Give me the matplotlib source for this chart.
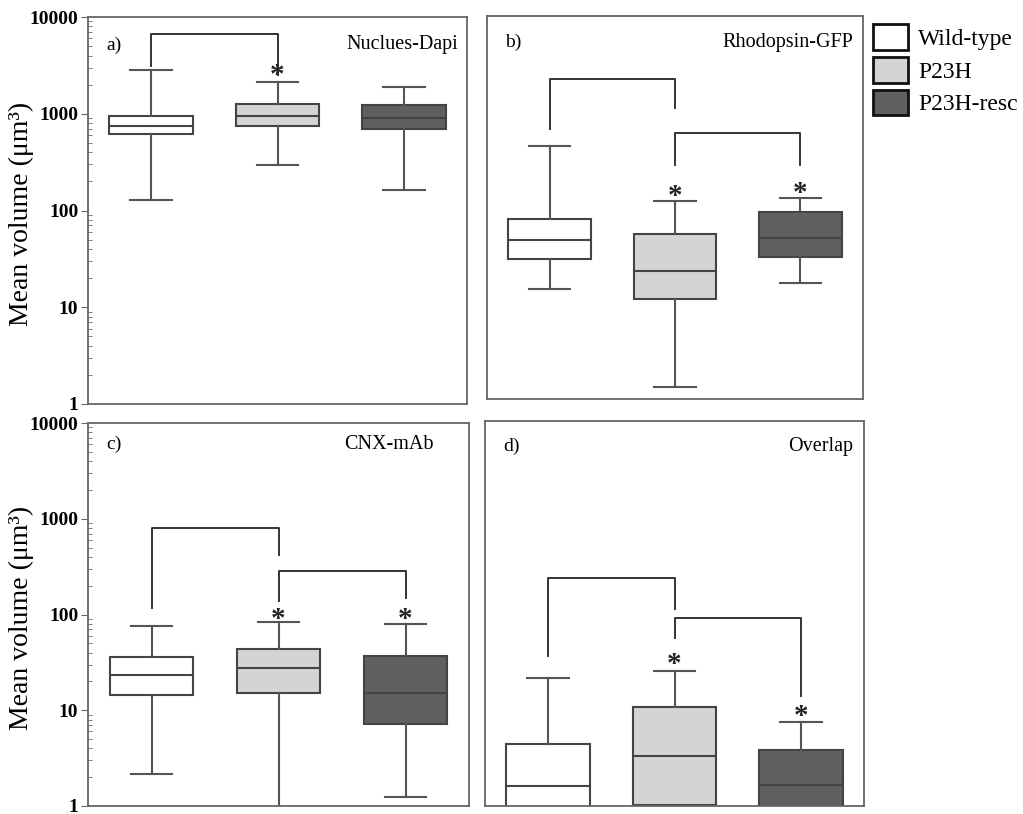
import numpy as np
import matplotlib
matplotlib.use('Agg')
import matplotlib.pyplot as plt
from matplotlib.patches import Patch

plt.rcParams['font.family'] = ['Liberation Serif', 'DejaVu Serif']

groups = ['Wild-type', 'P23H', 'P23H-resc']
colors = ['#ffffff', '#d4d4d4', '#606060']

# five-number summaries per marker (volume, um^3)
nuc_low = [128, 295, 163]
nuc_q1 = [622, 752, 695]
nuc_med = [752, 955, 910]
nuc_q3 = [955, 1270, 1230]
nuc_high = [2850, 2145, 1905]

rho_low = [14, 1.33, 16.4]
rho_q1 = [29.3, 11, 30.5]
rho_med = [46.3, 21.6, 48.5]
rho_q3 = [76.7, 53.5, 90]
rho_high = [444, 118, 125]

cnx_low = [2.18, 0.9, 1.24]
cnx_q1 = [14.3, 15.2, 7.2]
cnx_med = [23.2, 27.6, 15.2]
cnx_q3 = [35.6, 43.6, 36.5]
cnx_high = [75, 82.7, 80]

ovl_low = [0.5, 0.9, 0.5]
ovl_q1 = [0.8, 1.03, 0.8]
ovl_med = [1.61, 3.33, 1.65]
ovl_q3 = [4.43, 10.8, 3.78]
ovl_high = [21.6, 25, 7.4]

# brackets: (x_left, x_right, y_left_end, y_bar, y_right_end)
nuc_brackets = [(1, 2, 3140, 6670, 2510)]
rho_brackets = [(1, 2, 653, 2175, 1082), (2, 3, 275, 607, 275)]
cnx_brackets = [(1, 2, 117, 794, 416), (2, 3, 139, 287, 148)]
ovl_brackets = [(1, 2, 35.8, 232, 111), (2, 3, 55.5, 89.8, 13.8)]

# significance stars: (x, y)
nuc_stars = [(2, 2900)]
rho_stars = [(2, 152), (3, 163)]
cnx_stars = [(2, 103), (3, 103)]
ovl_stars = [(2, 34.5), (3, 9.9)]

W, H = 1023, 814
fig = plt.figure(figsize=(W / 100, H / 100), dpi=100)


def px_axes(l, t, r, b):
    return fig.add_axes([l / W, 1 - b / H, (r - l) / W, (b - t) / H])


def draw_panel(ax, low, q1, med, q3, high, brackets, stars, tag, title,
               tag_y, title_x, labels=True):
    stats = []
    for i in range(3):
        stats.append({'whislo': low[i], 'q1': q1[i], 'med': med[i],
                      'q3': q3[i], 'whishi': high[i], 'fliers': []})
    bp = ax.bxp(stats, positions=[1, 2, 3], widths=0.66, patch_artist=True,
                showfliers=False,
                boxprops=dict(edgecolor='#444444', linewidth=1.5),
                medianprops=dict(color='#444444', linewidth=1.5),
                whiskerprops=dict(color='#555555', linewidth=1.5),
                capprops=dict(color='#555555', linewidth=1.5))
    for patch, c in zip(bp['boxes'], colors):
        patch.set_facecolor(c)

    for x1, x2, y1, yb, y2 in brackets:
        ax.plot([x1, x1, x2, x2], [y1, yb, yb, y2], color='#333333', lw=1.4)
    for x, y in stars:
        # the asterisk glyph sits high in its box, so nudge it down
        ax.annotate('*', (x, y), xytext=(0, -4.5), textcoords='offset points',
                    ha='center', va='center', fontsize=21, fontweight='bold',
                    color='#222222')

    ax.set_yscale('log')
    ax.set_ylim(1, 10000)
    ax.set_xlim(0.5, 3.5)
    ax.set_xticks([])
    for s in ax.spines.values():
        s.set_color('#666666')
        s.set_linewidth(1.3)
    if labels:
        ax.set_yticks([1, 10, 100, 1000, 10000])
        ax.set_yticklabels(['1', '10', '100', '1000', '10000'],
                           fontsize=14, fontweight='bold')
        ax.tick_params(axis='y', which='major', direction='out', length=5,
                       color='#666666', pad=2)
        ax.tick_params(axis='y', which='minor', direction='in', length=3,
                       color='#666666')
        ax.set_ylabel('Mean volume (μm³)', fontsize=20)
        ax.yaxis.set_label_coords(-0.143, 0.49)
    else:
        ax.set_yticks([])
        ax.minorticks_off()
        ax.tick_params(axis='y', which='both', left=False, labelleft=False)

    ax.text(0.048, tag_y, tag, transform=ax.transAxes, ha='left',
            va='center', fontsize=14)
    ax.text(title_x, tag_y, title, transform=ax.transAxes, ha='right',
            va='center', fontsize=14.5)


ax_a = px_axes(88, 17, 467, 404)
ax_b = px_axes(487, 16, 863, 399)
ax_c = px_axes(88, 423, 469, 806)
ax_d = px_axes(485, 421, 864, 806)

draw_panel(ax_a, nuc_low, nuc_q1, nuc_med, nuc_q3, nuc_high,
           nuc_brackets, nuc_stars, 'a)', 'Nuclues-Dapi', 0.928, 0.976)
draw_panel(ax_b, rho_low, rho_q1, rho_med, rho_q3, rho_high,
           rho_brackets, rho_stars, 'b)', 'Rhodopsin-GFP', 0.93, 0.973,
           labels=False)
draw_panel(ax_c, cnx_low, cnx_q1, cnx_med, cnx_q3, cnx_high,
           cnx_brackets, cnx_stars, 'c)', 'CNX-mAb', 0.943, 0.908)
draw_panel(ax_d, ovl_low, ovl_q1, ovl_med, ovl_q3, ovl_high,
           ovl_brackets, ovl_stars, 'd)', 'Overlap', 0.933, 0.971,
           labels=False)

handles = [Patch(facecolor=c, edgecolor='#111111', linewidth=2) for c in colors]
fig.legend(handles, groups, loc='upper left',
           bbox_to_anchor=(873 / W, 1 - 24 / H), frameon=False,
           fontsize=17, handlelength=1.5, handleheight=1.3,
           labelspacing=0.3, handletextpad=0.4, borderpad=0,
           borderaxespad=0)

fig.savefig('out.png', dpi=100)
